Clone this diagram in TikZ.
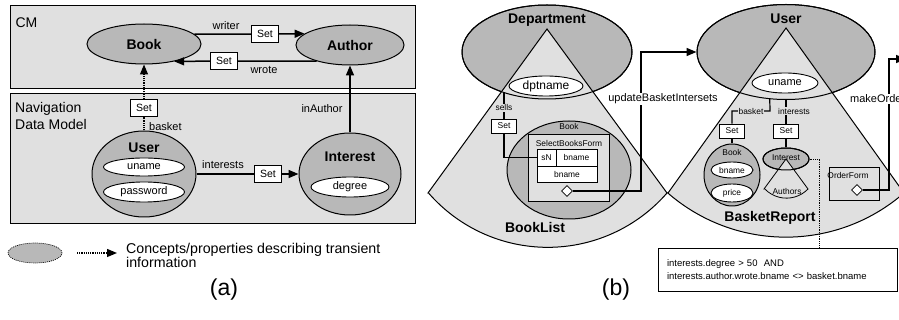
\documentclass[tikz,border=0pt]{standalone}
\usepackage{fontspec}
\setmainfont{Liberation Sans}
\usepackage{xcolor}
\usepackage{tikz}
\usetikzlibrary{shapes.geometric,arrows.meta}
\definecolor{panelcolor}{HTML}{E0E0E0}
\definecolor{conceptcolor}{HTML}{B8B8B8}

\begin{document}
\begin{tikzpicture}[
    x=1pt, y=1pt,
    >={Triangle[length=10pt,width=8pt]},
    panel/.style={draw, line width=0.9pt, fill=panelcolor},
    fan/.style={draw, line width=1pt, fill=panelcolor},
    concept/.style={ellipse, draw, line width=1pt, fill=conceptcolor, inner sep=0pt},
    attr/.style={ellipse, draw, line width=0.9pt, fill=white, inner sep=0pt,
                 font=\fontsize{11}{11}\selectfont},
    setbox/.style={rectangle, draw, line width=0.8pt, fill=white, inner sep=0pt,
                   minimum width=27pt, minimum height=17pt,
                   font=\fontsize{10.5}{10.5}\selectfont},
    smallset/.style={setbox, minimum width=25pt, minimum height=14pt,
                     font=\fontsize{8.5}{8.5}\selectfont},
    title/.style={font=\bfseries\fontsize{14}{14}\selectfont, inner sep=0pt},
    lbl/.style={font=\fontsize{11}{11}\selectfont, inner sep=1pt},
    tiny/.style={font=\fontsize{8.4}{8.4}\selectfont, inner sep=1pt},
    cell/.style={rectangle, draw, line width=0.8pt, fill=white, inner sep=0pt,
                 font=\fontsize{8.4}{8.4}\selectfont},
    port/.style={diamond, draw, line width=0.8pt, fill=white, inner sep=0pt,
                 minimum size=11pt},
    link/.style={line width=1.5pt},
    thinlink/.style={line width=1.2pt}
]
\useasboundingbox (0,0) rectangle (899,-320);
\clip (0,0) rectangle (899,-320);

% (a) CM and navigation data model
\draw[panel] (10,-5) rectangle (415,-88);
\draw[panel] (10,-93) rectangle (415,-223);
\node[anchor=west, font=\fontsize{14}{14}\selectfont] (cmlbl) at (12,-23) {CM};
\node[anchor=north west, align=left, inner sep=0pt,
      font=\fontsize{14}{17}\selectfont] (ndmlbl) at (15,-102) {Navigation\\Data Model};

\node[concept, minimum width=114pt, minimum height=40pt,
      font=\bfseries\fontsize{14}{14}\selectfont] (book) at (144,-44) {Book};
\node[concept, minimum width=108pt, minimum height=40pt,
      font=\bfseries\fontsize{14}{14}\selectfont] (author) at (350,-45) {Author};
\node[setbox] (setw) at (265,-34) {Set};
\node[setbox] (setr) at (224,-61) {Set};
\draw[link] (book.11) -- (setw);
\draw[link, ->] (setw) -- (author.166);
\draw[link] (author.206) -- (setr);
\draw[link, ->] (setr) -- (book.330);
\node[lbl] (writerlbl) at (226,-26) {writer};
\node[lbl] (wrotelbl) at (264,-70) {wrote};

\node[concept, minimum width=104pt, minimum height=86pt] (user) at (144,-174) {};
\node[title] (usertitle) at (144,-148) {User};
\node[attr, minimum width=81pt, minimum height=18pt] (uname) at (144,-167) {uname};
\node[attr, minimum width=81pt, minimum height=20pt] (password) at (144,-192) {password};
\node[concept, minimum width=102pt, minimum height=82pt] (interest) at (350,-174) {};
\node[title] (interesttitle) at (350,-157) {Interest};
\node[attr, minimum width=78pt, minimum height=20pt] (degree) at (350,-187) {degree};

\node[setbox] (setb) at (144,-108) {Set};
\draw[densely dotted, thinlink] (user) -- (setb);
\draw[densely dotted, thinlink, ->] (setb) -- (book);
\node[lbl, anchor=west] (basketlbl) at (148,-127) {basket};
\draw[link, ->] (interest) -- (author);
\node[lbl] (inauthorlbl) at (322,-109) {inAuthor};
\node[setbox] (setn) at (268,-174) {Set};
\draw[link] (user) -- (setn);
\draw[link, ->] (setn) -- (interest);
\node[lbl] (interestslbl) at (223,-165) {interests};

% legend
\node[concept, densely dotted, line width=0.7pt, minimum width=54pt,
      minimum height=20pt] (legend) at (35,-253) {};
\coordinate (legfrom) at (77,-253);
\coordinate (legto) at (117,-253);
\draw[densely dotted, thinlink, ->] (legfrom) -- (legto);
\node[anchor=west, align=left, inner sep=0pt,
      font=\fontsize{14.2}{14}\selectfont] (legendtxt) at (126,-255)
      {Concepts/properties describing transient\\information};
\node[font=\fontsize{23}{23}\selectfont] (capa) at (224,-290) {(a)};

% (b) navigation model
\node[concept, minimum width=170pt, minimum height=94pt] (dept) at (547,-52) {};
\draw[fan] (428,-193) -- (547,-29) -- (667,-193)
    arc[start angle=319, end angle=221, radius=158pt] -- cycle;
\draw[line width=1pt] (dept.center) ellipse[x radius=85pt, y radius=47pt];
\node[title] (depttitle) at (547,-20) {Department};
\node[attr, minimum width=74pt, minimum height=20pt,
      font=\fontsize{12}{12}\selectfont] (dptname) at (546,-86) {dptname};

\node[concept, minimum width=124pt, minimum height=98pt] (bookin) at (569,-170) {};
\node[tiny] (bookintitle) at (569,-127) {Book};
\node[rectangle, draw, line width=0.9pt, fill=panelcolor, minimum width=81pt,
      minimum height=67pt] (sbf) at (568.5,-167.5) {};
\node[tiny] (sbftitle) at (569,-143) {SelectBooksForm};
\node[cell, minimum width=19pt, minimum height=17pt] (sn) at (546.5,-157.5) {sN};
\node[cell, minimum width=41pt, minimum height=17pt] (bname1) at (576.5,-157.5) {bname};
\node[cell, minimum width=60pt, minimum height=16pt] (bname2) at (567,-174) {bname};
\node[port] (sbfport) at (567,-191) {};

\coordinate (sellsfrom) at (504,-93);
\node[smallset] (setd) at (504,-126) {Set};
\draw[link] (sellsfrom) -- (setd);
\draw[link] (setd.south) |- (sn.west);
\node[tiny, fill=panelcolor] (sellslbl) at (504,-108) {sells};

\node[concept, minimum width=178pt, minimum height=95pt] (userb) at (786,-52) {};
\coordinate (updturn) at (641,-52);
\draw[link, ->] (sbfport.east) -| (updturn) -- (userb.west);
\node[lbl, fill=white] (updlbl) at (663,-99) {updateBasketIntersets};

\draw[fan] (668,-193) -- (786,-28) -- (904,-193)
    arc[start angle=311, end angle=229, radius=180pt] -- cycle;
\draw[line width=1pt] (userb.center) ellipse[x radius=89pt, y radius=47.5pt];
\node[title] (userbtitle) at (786,-19) {User};
\node[attr, minimum width=66pt, minimum height=20pt] (unameb) at (785,-83) {uname};

\node[smallset] (setbk) at (732,-131) {Set};
\node[smallset] (seti) at (786,-131) {Set};
\coordinate (bkturn) at (770,-111);
\draw[thinlink] (userb.251) -- (bkturn) -| (setbk);
\node[tiny, fill=panelcolor] (basketblbl) at (751,-111) {basket};
\draw[thinlink] (userb.south) -- (seti);
\node[tiny, fill=panelcolor] (interestsblbl) at (794,-111) {interests};

\node[concept, minimum width=56pt, minimum height=62pt] (bookbk) at (732,-175) {};
\draw[thinlink] (setbk) -- (bookbk);
\node[tiny] (bookbktitle) at (732,-152) {Book};
\node[attr, minimum width=42pt, minimum height=16pt,
      font=\fontsize{8.4}{8.4}\selectfont] (bnameb) at (732,-170) {bname};
\node[attr, minimum width=42pt, minimum height=18pt,
      font=\fontsize{8.4}{8.4}\selectfont] (price) at (732,-193) {price};

\node[concept, minimum width=46pt, minimum height=22pt] (intb) at (786,-159) {};
\draw[thinlink] (seti) -- (intb);
\draw[line width=0.8pt, fill=panelcolor] (764,-189) -- (intb.center) -- (808,-189)
    arc[start angle=316, end angle=224, radius=30pt] -- cycle;
\draw[line width=1pt] (intb.center) ellipse[x radius=23pt, y radius=11pt];
\node[tiny] (intbtitle) at (786,-158) {Interest};
\node[tiny] (authorslbl) at (787,-191) {Authors};

\node[rectangle, draw, line width=0.9pt, minimum width=50pt,
      minimum height=33pt] (ordf) at (854,-183.5) {};
\node[tiny] (ordflbl) at (848,-175) {OrderForm};
\node[port] (ordport) at (857,-190) {};
\coordinate (mkturn) at (889,-59);
\coordinate (mkend) at (906,-59);
\draw[link, ->] (ordport.east) -| (mkturn) -- (mkend);
\node[lbl, fill=white, anchor=west] (mklbl) at (849,-99) {makeOrder};

\node[title] (booklisttitle) at (535,-227) {BookList};
\node[title] (basketreporttitle) at (770,-218) {BasketReport};

\node[rectangle, draw, line width=0.9pt, fill=white, minimum width=239pt,
      minimum height=43pt, text width=221pt, align=left, inner sep=0pt,
      font=\fontsize{9.5}{13}\selectfont] (cons) at (777.5,-269.5)
      {interests.degree > 50~~AND\\interests.author.wrote.bname <> basket.bname};
\draw[densely dotted, line width=0.8pt] (intb.east) -| ([xshift=41.5pt]cons.north);

\node[font=\fontsize{23}{23}\selectfont] (capb) at (616,-290) {(b)};
\end{tikzpicture}
\end{document}
